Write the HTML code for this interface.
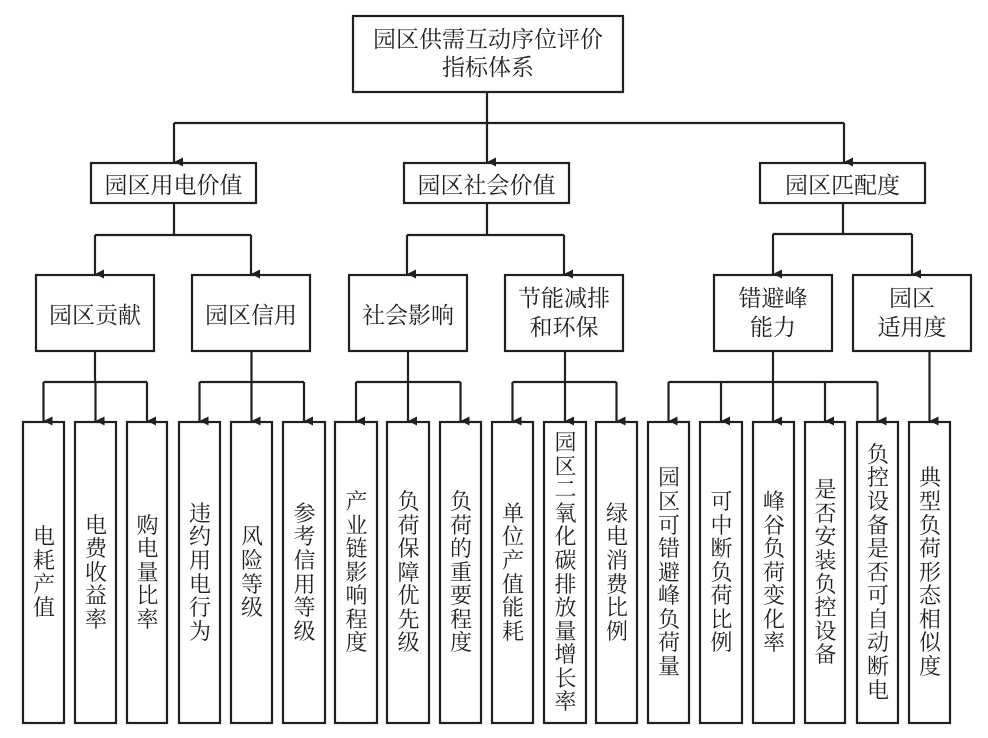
<!DOCTYPE html>
<html><head><meta charset="utf-8"><style>
html,body{margin:0;padding:0;background:#fff;}
body{width:988px;height:738px;position:relative;overflow:hidden;}
svg{position:absolute;left:0;top:0;}
.t{position:absolute;display:flex;align-items:center;justify-content:center;text-align:center;font-family:"Liberation Serif","Noto Serif CJK SC",serif;font-size:22px;color:#231f20;box-sizing:border-box;}
.m{font-size:23px;}
.v{width:22px;line-height:23.6px;word-break:break-all;white-space:normal;}
</style></head><body>
<svg width="988" height="738" viewBox="0 0 988 738">
<defs><marker id="a" markerWidth="9" markerHeight="9" refX="4.5" refY="9" orient="auto" markerUnits="userSpaceOnUse" viewBox="0 0 9 9"><path d="M0,0 L9,0 L4.5,9 Z" fill="#231f20"/></marker></defs>
<g fill="none" stroke="#231f20" stroke-width="2.2">
<rect x="353" y="16" width="270" height="76"/>
<rect x="91" y="163" width="165" height="40"/>
<rect x="404" y="163" width="165" height="40"/>
<rect x="760" y="163" width="165" height="40"/>
<rect x="36" y="275" width="118" height="76"/>
<rect x="192" y="275" width="118" height="76"/>
<rect x="349" y="275" width="118" height="76"/>
<rect x="505" y="275" width="118" height="76"/>
<rect x="714" y="275" width="118" height="76"/>
<rect x="853" y="275" width="118" height="76"/>
<rect x="23" y="422" width="41" height="301"/>
<rect x="75" y="422" width="41" height="301"/>
<rect x="127" y="422" width="40" height="301"/>
<rect x="179" y="422" width="41" height="301"/>
<rect x="231" y="422" width="41" height="301"/>
<rect x="283" y="422" width="42" height="301"/>
<rect x="335" y="422" width="42" height="301"/>
<rect x="387" y="422" width="42" height="301"/>
<rect x="440" y="422" width="41" height="301"/>
<rect x="492" y="422" width="41" height="301"/>
<rect x="544" y="422" width="42" height="301"/>
<rect x="596" y="422" width="41" height="301"/>
<rect x="648" y="422" width="41" height="301"/>
<rect x="700" y="422" width="42" height="301"/>
<rect x="753" y="422" width="41" height="301"/>
<rect x="805" y="422" width="40" height="301"/>
<rect x="857" y="422" width="41" height="301"/>
<rect x="909" y="422" width="41" height="301"/>
<path d="M487,92 V123 M174,123 H844"/>
<path d="M174,123 V162" marker-end="url(#a)"/>
<path d="M487,123 V162" marker-end="url(#a)"/>
<path d="M844,123 V162" marker-end="url(#a)"/>
<path d="M174,203 V235 M95,235 H251"/>
<path d="M95,235 V274" marker-end="url(#a)"/>
<path d="M251,235 V274" marker-end="url(#a)"/>
<path d="M487,203 V235 M407,235 H564"/>
<path d="M407,235 V274" marker-end="url(#a)"/>
<path d="M564,235 V274" marker-end="url(#a)"/>
<path d="M843,203 V234 M773,234 H912"/>
<path d="M773,234 V274" marker-end="url(#a)"/>
<path d="M912,234 V274" marker-end="url(#a)"/>
<path d="M95,351 V382 M43.5,382 H147"/>
<path d="M43.5,382 V421" marker-end="url(#a)"/>
<path d="M95.5,382 V421" marker-end="url(#a)"/>
<path d="M147,382 V421" marker-end="url(#a)"/>
<path d="M251.5,351 V382 M199.5,382 H304"/>
<path d="M199.5,382 V421" marker-end="url(#a)"/>
<path d="M251.5,382 V421" marker-end="url(#a)"/>
<path d="M304,382 V421" marker-end="url(#a)"/>
<path d="M408,351 V382 M356,382 H460.5"/>
<path d="M356,382 V421" marker-end="url(#a)"/>
<path d="M408,382 V421" marker-end="url(#a)"/>
<path d="M460.5,382 V421" marker-end="url(#a)"/>
<path d="M565,351 V382 M512.5,382 H616.5"/>
<path d="M512.5,382 V421" marker-end="url(#a)"/>
<path d="M565,382 V421" marker-end="url(#a)"/>
<path d="M616.5,382 V421" marker-end="url(#a)"/>
<path d="M773,351 V382 M668.5,382 H877.5"/>
<path d="M668.5,382 V421" marker-end="url(#a)"/>
<path d="M721,382 V421" marker-end="url(#a)"/>
<path d="M773,382 V421" marker-end="url(#a)"/>
<path d="M825,382 V421" marker-end="url(#a)"/>
<path d="M877.5,382 V421" marker-end="url(#a)"/>
<path d="M929.5,351 V421" marker-end="url(#a)"/>
</g>
</svg>
<div class="t" style="left:353px;top:16px;width:270px;height:76px;line-height:28px;font-size:23px;">园区供需互动序位评价<br>指标体系</div>
<div class="t" style="left:91px;top:163px;width:165px;height:40px;font-size:23px;">园区用电价值</div>
<div class="t" style="left:404px;top:163px;width:165px;height:40px;font-size:23px;">园区社会价值</div>
<div class="t" style="left:760px;top:163px;width:165px;height:40px;font-size:23px;">园区匹配度</div>
<div class="t m" style="left:36px;top:275px;width:118px;height:76px;">园区贡献</div>
<div class="t m" style="left:192px;top:275px;width:118px;height:76px;">园区信用</div>
<div class="t m" style="left:349px;top:275px;width:118px;height:76px;">社会影响</div>
<div class="t m" style="left:505px;top:275px;width:118px;height:76px;line-height:29px;">节能减排<br>和环保</div>
<div class="t m" style="left:714px;top:275px;width:118px;height:76px;line-height:29px;">错避峰<br>能力</div>
<div class="t m" style="left:853px;top:275px;width:118px;height:76px;line-height:29px;">园区<br>适用度</div>
<div class="t" style="left:23px;top:422px;width:42px;height:301px;"><div class="v">电耗产值</div></div>
<div class="t" style="left:75px;top:422px;width:42px;height:301px;"><div class="v">电费收益率</div></div>
<div class="t" style="left:127px;top:422px;width:41px;height:301px;"><div class="v">购电量比率</div></div>
<div class="t" style="left:179px;top:422px;width:42px;height:301px;"><div class="v">违约用电行为</div></div>
<div class="t" style="left:231px;top:422px;width:42px;height:301px;"><div class="v">风险等级</div></div>
<div class="t" style="left:283px;top:422px;width:43px;height:301px;"><div class="v">参考信用等级</div></div>
<div class="t" style="left:335px;top:422px;width:43px;height:301px;"><div class="v">产业链影响程度</div></div>
<div class="t" style="left:387px;top:422px;width:43px;height:301px;"><div class="v">负荷保障优先级</div></div>
<div class="t" style="left:440px;top:422px;width:42px;height:301px;"><div class="v">负荷的重要程度</div></div>
<div class="t" style="left:492px;top:422px;width:42px;height:301px;"><div class="v">单位产值能耗</div></div>
<div class="t" style="left:544px;top:422px;width:43px;height:301px;"><div class="v">园区二氧化碳排放量增长率</div></div>
<div class="t" style="left:596px;top:422px;width:42px;height:301px;"><div class="v">绿电消费比例</div></div>
<div class="t" style="left:648px;top:422px;width:42px;height:301px;"><div class="v">园区可错避峰负荷量</div></div>
<div class="t" style="left:700px;top:422px;width:43px;height:301px;"><div class="v">可中断负荷比例</div></div>
<div class="t" style="left:753px;top:422px;width:42px;height:301px;"><div class="v">峰谷负荷变化率</div></div>
<div class="t" style="left:805px;top:422px;width:41px;height:301px;"><div class="v">是否安装负控设备</div></div>
<div class="t" style="left:857px;top:422px;width:42px;height:301px;"><div class="v">负控设备是否可自动断电</div></div>
<div class="t" style="left:909px;top:422px;width:42px;height:301px;"><div class="v">典型负荷形态相似度</div></div>
</body></html>
